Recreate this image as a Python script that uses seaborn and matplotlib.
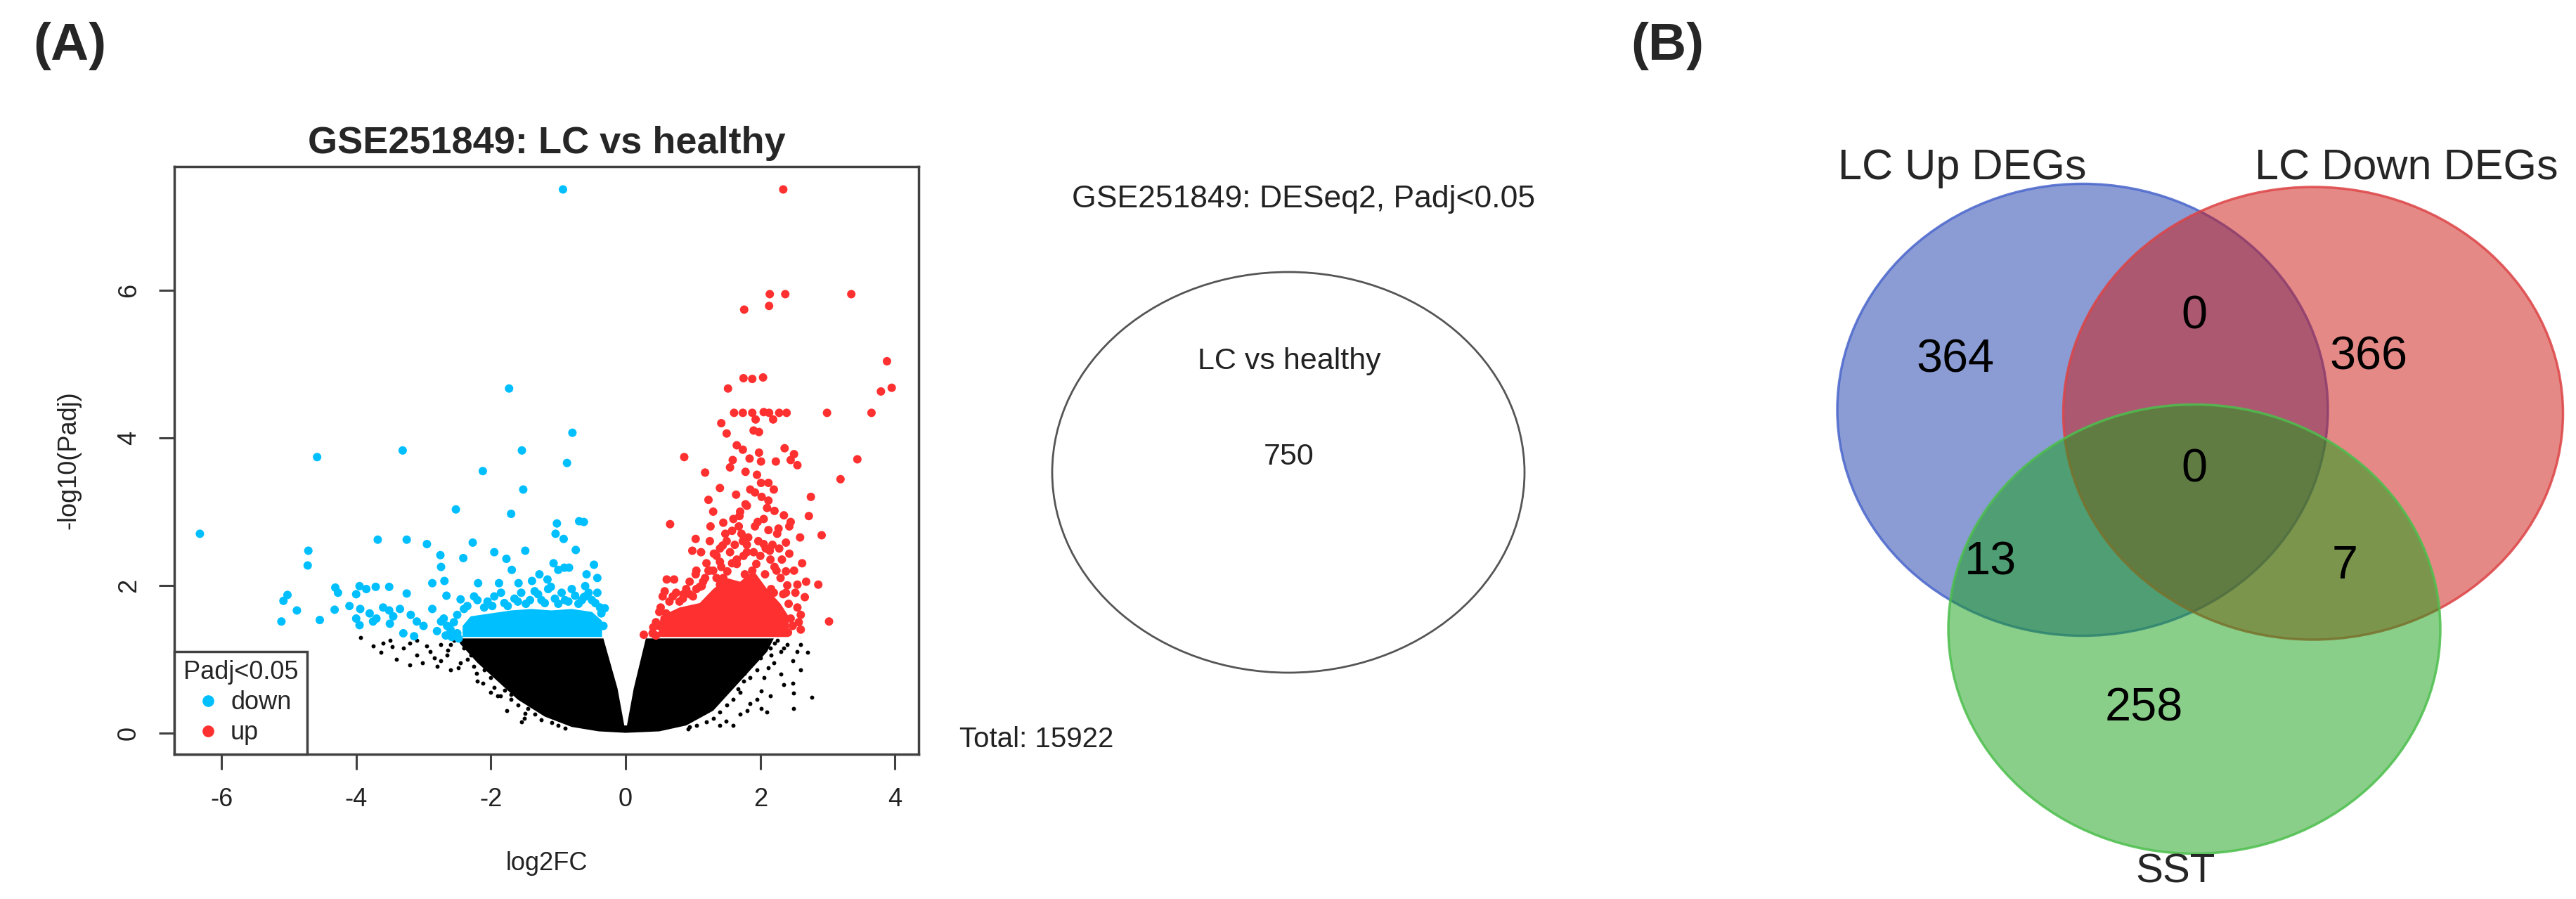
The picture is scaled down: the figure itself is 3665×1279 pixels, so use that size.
import numpy as np
import pandas as pd
import seaborn as sns
import matplotlib.pyplot as plt
from matplotlib.patches import Ellipse
from matplotlib.lines import Line2D

# ---------------- data ---------------- #
# significant down-regulated genes (log2FC, -log10 Padj)
down_x = [-0.93, -1.73, -0.79, -0.87, -1.54, -4.58, -3.31, -2.12, -1.52, -2.52, -1.70, -6.32,
          -4.71, -4.72, -3.68, -3.25, -2.95, -2.75, -2.74, -2.27, -2.41, -1.95, -1.77, -1.49,
          -1.69, -1.02, -0.92, -0.69, -0.62, -1.04, -0.74, -1.07, -0.91, -0.84, -0.47, -0.58,
          -0.42, -2.69, -2.87, -2.66, -4.31, -4.27, -3.95, -3.71, -3.51, -3.25, -5.08, -5.02,
          -4.88, -5.11, -4.54, -4.32, -3.94, -3.95, -3.75, -3.51, -3.35, -3.50, -3.19, -3.10,
          -3.14, -2.87, -2.74, -2.67, -2.45, -2.19, -1.88, -1.59, -1.39, -1.16, -1.11, -1.00,
          -1.28, -0.60, -0.62, -0.31,
          -2.35, -2.20, -2.05, -1.95, -1.80, -1.65, -1.55, -1.42, -1.30, -1.20, -1.05, -0.95,
          -0.85, -0.75, -0.65, -0.55, -0.45, -0.38, -2.55, -2.60, -2.50, -2.70, -2.80, -3.00,
          -3.30, -3.45, -3.60, -3.80, -4.10, -4.00, -3.85, -3.70, -4.00,
          -2.40, -2.25, -2.10, -1.98, -1.85, -1.75, -1.60, -1.48, -1.35, -1.25, -1.15, -1.00,
          -0.90, -0.80, -0.70, -0.60, -0.50, -0.42, -0.36, -0.33, -2.50, -2.58, -2.65, -2.48]
down_y = [7.37, 4.67, 4.07, 3.66, 3.83, 3.74, 3.83, 3.55, 3.30, 3.03, 2.97, 2.70,
          2.47, 2.27, 2.62, 2.62, 2.56, 2.41, 2.25, 2.58, 2.37, 2.45, 2.36, 2.47,
          2.21, 2.84, 2.63, 2.87, 2.86, 2.70, 2.48, 2.30, 2.24, 2.24, 2.28, 2.15,
          2.10, 2.06, 2.03, 1.86, 1.97, 1.90, 1.99, 1.98, 1.98, 1.89, 1.79, 1.87,
          1.66, 1.51, 1.53, 1.67, 1.68, 1.46, 1.51, 1.66, 1.68, 1.48, 1.60, 1.51,
          1.31, 1.68, 1.51, 1.32, 1.81, 2.03, 2.03, 2.03, 2.06, 2.08, 1.98, 2.21,
          2.15, 1.99, 1.84, 1.69,
          1.72, 1.80, 1.78, 1.85, 1.76, 1.82, 1.90, 1.80, 1.88, 1.76, 1.82, 1.90,
          1.78, 1.86, 1.80, 1.90, 1.76, 1.70, 1.50, 1.40, 1.35, 1.55, 1.38, 1.45,
          1.35, 1.58, 1.70, 1.62, 1.72, 1.88, 1.95, 1.55, 1.55,
          1.68, 1.85, 1.70, 1.72, 1.90, 1.72, 1.78, 1.75, 1.92, 1.80, 1.95, 1.75,
          1.80, 1.95, 1.75, 1.85, 1.80, 1.90, 1.62, 1.45, 1.60, 1.30, 1.45, 1.28]

# significant up-regulated genes
up_x = [2.34, 2.14, 2.37, 3.35, 2.13, 1.76, 3.88, 3.95, 3.79, 3.65, 2.99, 3.44, 3.19, 2.91,
        2.86, 2.66, 3.02, 2.04, 1.75, 1.88, 1.52, 1.61, 1.74, 1.88, 2.13, 2.28, 2.39, 1.42,
        1.50, 1.98, 1.93, 2.19, 1.74, 2.36, 2.50, 2.55, 2.45, 1.59, 1.84, 2.01, 0.87, 1.18,
        1.78, 2.23, 2.01, 2.12, 1.92, 1.64, 1.40, 1.23, 2.12, 2.75, 1.80, 2.21, 0.66, 1.69,
        1.96, 2.45, 2.72, 1.26, 1.58, 2.27, 2.43, 1.04, 1.44, 1.74, 2.05, 2.59, 2.38, 0.99,
        1.31, 1.80, 2.14, 2.43, 1.40, 1.65, 1.94, 2.21, 1.04, 1.23, 1.51, 1.77, 2.07, 2.38,
        0.61, 0.72, 0.95, 1.13, 1.40, 1.62, 1.89, 2.16, 2.55, 2.34, 0.86, 0.27, 0.41, 0.50,
        2.41, 2.57,
        0.55, 0.65, 0.75, 0.85, 0.95, 1.05, 1.15, 1.20, 1.30, 1.35, 1.45, 1.50, 1.55, 1.60,
        1.65, 1.70, 1.72, 1.80, 1.85, 1.88, 1.95, 2.00, 2.05, 2.10, 2.15, 2.20, 2.25, 2.30,
        2.35, 2.40, 2.50, 2.55, 2.60, 2.45, 0.40, 0.45, 2.30, 2.20, 1.98, 1.90, 2.05, 1.65,
        1.55, 1.30, 1.25, 1.45,
        0.52, 0.60, 0.70, 0.80, 0.90, 1.00, 1.10, 1.18, 1.25, 1.35, 1.40, 1.42, 1.48, 1.58,
        1.62, 1.68, 1.75, 1.78, 1.82, 1.90, 1.92, 1.97, 2.02, 2.08, 2.12, 2.18, 2.24, 2.28,
        2.32, 2.38, 2.42, 2.48, 2.52, 2.60, 2.62, 2.68, 0.45, 0.50, 0.58, 1.05, 1.12]
up_y = [7.37, 5.95, 5.95, 5.95, 5.79, 5.74, 5.04, 4.68, 4.63, 4.34, 4.34, 3.71, 3.44, 2.68,
        2.01, 1.84, 1.51, 4.82, 4.81, 4.80, 4.67, 4.34, 4.34, 4.34, 4.34, 4.34, 4.34, 4.20,
        4.06, 4.08, 4.25, 4.25, 3.84, 3.86, 3.78, 3.63, 3.70, 3.70, 3.72, 3.68, 3.74, 3.53,
        3.54, 3.68, 3.39, 3.39, 3.26, 3.23, 3.32, 3.16, 3.15, 3.20, 3.08, 3.01, 2.83, 2.94,
        2.86, 2.86, 2.94, 2.80, 2.74, 2.77, 2.80, 2.63, 2.54, 2.60, 2.56, 2.65, 2.58, 2.47,
        2.43, 2.45, 2.47, 2.43, 2.32, 2.29, 2.29, 2.25, 2.15, 2.20, 2.19, 2.15, 2.15, 2.19,
        2.08, 2.08, 2.05, 1.99, 2.01, 1.98, 1.99, 1.95, 2.01, 1.88, 1.88, 1.33, 1.43, 1.64,
        1.36, 1.50,
        1.85, 1.78, 1.90, 1.82, 1.88, 1.95, 2.05, 2.30, 2.20, 2.40, 2.10, 2.60, 2.45, 2.90,
        2.35, 3.00, 2.70, 2.55, 3.30, 2.20, 3.50, 2.40, 2.90, 3.05, 2.35, 3.30, 2.70, 2.10,
        2.95, 2.00, 2.20, 1.70, 1.40, 1.55, 1.35, 1.50, 1.45, 1.90, 3.80, 4.10, 4.35, 3.90,
        3.60, 3.00, 2.60, 2.85,
        1.70, 1.62, 1.85, 1.78, 1.95, 1.85, 1.98, 2.10, 2.20, 2.10, 2.50, 2.25, 2.70, 2.30,
        2.55, 2.80, 2.40, 3.10, 2.65, 2.45, 2.80, 2.60, 3.20, 2.50, 2.75, 2.55, 2.20, 2.50,
        2.35, 1.90, 1.75, 1.45, 1.90, 1.60, 2.30, 2.05, 1.32, 1.45, 1.92, 2.20, 2.45]

# non-significant genes lying outside the dense cloud
ns_x = [-3.94, -3.63, -3.47, -3.20, -3.02, -2.84, -2.64, -2.48, -2.21, -2.12, -1.86, -1.76,
        -1.49, -2.60, -2.90, -3.30, -3.60, -2.30, -2.00, -1.70, -1.50, -3.10, -2.75,
        -2.55, -2.40, -2.35, -2.25, -2.10, -2.00, -1.95, -1.80, -1.70, -1.60, -1.45, -1.35,
        -1.25, -1.10, -1.00, -0.90, -2.65, -2.75, -2.95, -3.10, -3.40, -3.50, -3.75, -2.45,
        -2.20, -1.90, -1.55, -2.60, -2.80, -3.20,
        1.94, 2.16, 2.12, 2.48, 2.70, 2.48, 2.49, 2.76, 2.49, 2.01, 2.01, 1.49, 0.93, 1.67,
        1.76, 2.21, 2.20, 2.30, 2.05, 1.85, 1.70, 1.40, 2.35, 2.60,
        2.25, 2.30, 2.15, 2.00, 1.95, 1.85, 1.75, 1.70, 1.60, 1.50, 1.40, 1.30, 1.20, 1.05,
        0.95, 2.40, 2.55, 2.60, 2.35, 2.15, 1.95, 1.80, 2.10, 1.60]
ns_y = [1.29, 1.09, 1.17, 1.22, 0.95, 1.02, 1.12, 0.88, 0.81, 0.67, 0.50, 0.30,
        0.26, 1.20, 1.10, 1.15, 1.22, 1.05, 0.55, 0.45, 0.20, 1.25, 0.98,
        1.25, 1.15, 1.00, 0.90, 0.85, 0.75, 0.62, 0.58, 0.52, 0.38, 0.33, 0.25,
        0.18, 0.14, 0.10, 0.06, 1.05, 1.20, 1.18, 1.05, 1.00, 1.25, 1.18, 0.95,
        0.70, 0.50, 0.15, 0.85, 0.90, 0.92,
        1.09, 1.05, 0.88, 0.98, 1.09, 0.67, 0.54, 0.48, 0.33, 0.57, 0.33, 0.16, 0.05, 0.60,
        0.81, 1.22, 0.95, 0.80, 0.75, 0.40, 0.25, 0.10, 1.15, 1.20,
        1.25, 1.10, 1.15, 1.02, 0.85, 0.75, 0.70, 0.55, 0.45, 0.38, 0.28, 0.20, 0.15, 0.10,
        0.08, 1.20, 1.10, 0.85, 0.65, 0.50, 0.45, 0.30, 0.28, 0.10]

# outlines of the solid-looking dense parts of each group
ns_core_x = [0.00, -0.40, -0.80, -1.20, -1.60, -1.90, -2.20, -2.45, -2.50, -0.33, -0.12, -0.02,
             0.02, 0.12, 0.30, 2.20, 2.10, 1.90, 1.60, 1.30, 0.90, 0.50]
ns_core_y = [0.00, 0.02, 0.08, 0.22, 0.45, 0.70, 0.95, 1.20, 1.28, 1.28, 0.60, 0.10,
             0.10, 0.60, 1.28, 1.28, 1.10, 0.90, 0.60, 0.30, 0.10, 0.02]
down_core_x = [-2.42, -2.30, -2.00, -1.70, -1.40, -1.10, -0.80, -0.50, -0.35, -0.35, -2.42]
down_core_y = [1.45, 1.58, 1.62, 1.66, 1.68, 1.66, 1.68, 1.64, 1.52, 1.30, 1.30]
up_core_x = [0.48, 0.52, 0.80, 1.10, 1.30, 1.50, 1.70, 1.90, 2.10, 2.30, 2.42, 2.42]
up_core_y = [1.30, 1.58, 1.70, 1.76, 1.95, 2.10, 2.05, 2.20, 1.95, 1.75, 1.58, 1.30]

x_ticks = [-6, -4, -2, 0, 2, 4]
y_ticks = [0, 2, 4, 6]

deg_total = 750
gene_total = 15922

# ---------------- Venn counts ---------------- #
venn_names = ["LC Up DEGs", "LC Down DEGs", "SST"]
only_up, only_down, only_sst = 364, 366, 258
up_down, up_sst, down_sst, all_three = 0, 13, 7, 0

COL_DOWN = "#00BFFF"
COL_UP = "#FF3030"
AX_COL = "#404040"

W, H = 3665, 1279

sns.set_theme(style="ticks")
plt.rcParams['font.family'] = ['Liberation Sans', 'DejaVu Sans']

fig = plt.figure(figsize=(W / 100, H / 100), dpi=100)
fig.patch.set_facecolor("white")

# ---------------- (A) volcano ---------------- #
ax = fig.add_axes([248 / W, 1 - 1073 / H, (1307 - 248) / W, (1073 - 237) / H])
ax.fill(ns_core_x, ns_core_y, color="black", lw=0, zorder=1)
ns_df = pd.DataFrame({"log2FC": ns_x, "padj": ns_y})
sns.scatterplot(data=ns_df, x="log2FC", y="padj", color="black", s=18, linewidth=0, ax=ax, zorder=2)

ax.fill(down_core_x, down_core_y, color=COL_DOWN, lw=0, zorder=3)
ax.fill(up_core_x, up_core_y, color=COL_UP, lw=0, zorder=3)
sig = pd.concat([
    pd.DataFrame({"log2FC": down_x, "padj": down_y, "group": "down"}),
    pd.DataFrame({"log2FC": up_x, "padj": up_y, "group": "up"}),
])
sns.scatterplot(data=sig, x="log2FC", y="padj", hue="group",
                palette={"down": COL_DOWN, "up": COL_UP}, s=75, linewidth=0,
                legend=False, ax=ax, zorder=4)

ax.set_xlim(-6.70, 4.35)
ax.set_ylim(-0.29, 7.68)
ax.set_xticks(x_ticks)
ax.set_yticks(y_ticks)
ax.set_xticklabels([str(t) for t in x_ticks])
ax.set_yticklabels([str(t) for t in y_ticks], rotation=90, va="center")
ax.tick_params(direction="out", length=16, width=2.2, pad=18, labelsize=26,
               color=AX_COL, labelcolor="#222222")
for sp in ax.spines.values():
    sp.set_visible(True)
    sp.set_color(AX_COL)
    sp.set_linewidth(2.5)

ax.set_title("GSE251849: LC vs healthy", fontsize=39, fontweight="bold", pad=14)
ax.set_xlabel("log2FC", fontsize=26, color="#222222")
ax.set_ylabel("-log10(Padj)", fontsize=26, color="#222222")
ax.xaxis.set_label_coords(0.5, -0.165)
ax.yaxis.set_label_coords(-0.125, 0.5)

handles = [Line2D([], [], marker="o", ls="", color=COL_DOWN, markersize=11, label="down"),
           Line2D([], [], marker="o", ls="", color=COL_UP, markersize=11, label="up")]
leg = ax.legend(handles=handles, title="Padj<0.05", loc="lower left", bbox_to_anchor=(0, 0),
                borderaxespad=0, fontsize=26, title_fontsize=26, frameon=True,
                fancybox=False, framealpha=1, edgecolor=AX_COL, borderpad=0.35,
                handlelength=1.45, handletextpad=0.15, labelspacing=0.22)
leg.get_frame().set_linewidth(2.5)
leg.set_zorder(10)

# ---------------- (A) single-set Venn ---------------- #
axv = fig.add_axes([1350 / W, 0, 1000 / W, 1])
axv.set_xlim(1350, 2350)
axv.set_ylim(H, 0)
axv.axis("off")
axv.add_patch(Ellipse((1833, 672), 672, 570, fill=False, ec="#555555", lw=2))
axv.text(1855, 283, "GSE251849: DESeq2, Padj<0.05", ha="center", va="center", fontsize=32, color="#222222")
axv.text(1834, 514, "LC vs healthy", ha="center", va="center", fontsize=31, color="#222222")
axv.text(1834, 650, str(deg_total), ha="center", va="center", fontsize=31, color="#222222")
axv.text(1365, 1052, f"Total: {gene_total}", ha="left", va="center", fontsize=29, color="#222222")

# ---------------- (B) three-set Venn ---------------- #
axb = fig.add_axes([2300 / W, 0, (W - 2300) / W, 1])
axb.set_xlim(2300, W)
axb.set_ylim(H, 0)
axb.axis("off")

circles = [
    ((2963, 583), 698, 643, "#193BAD", "#4A66CC"),
    ((3291, 588), 711, 644, "#CD150F", "#DD4446"),
    ((3122, 895), 700, 639, "#15A115", "#4DBF4D"),
]
for (cx, cy), w, h, fc, ec in circles:
    axb.add_patch(Ellipse((cx, cy), w, h, fc=fc, alpha=0.5, lw=0))
    axb.add_patch(Ellipse((cx, cy), w, h, fill=False, ec=ec, lw=2.5, alpha=0.85))

axb.text(2792, 240, venn_names[0], ha="center", va="center", fontsize=44)
axb.text(3424, 240, venn_names[1], ha="center", va="center", fontsize=44)
axb.text(3095, 1240, venn_names[2], ha="center", va="center", fontsize=42)

region_pos = [
    ((2782, 513), only_up), ((3370, 509), only_down), ((3122, 450), up_down),
    ((3122, 668), all_three), ((2832, 800), up_sst), ((3336, 806), down_sst),
    ((3050, 1008), only_sst),
]
for (px, py), n in region_pos:
    axb.text(px, py, str(n), ha="center", va="center", fontsize=48, color="black")

# ---------------- panel letters ---------------- #
fig.text(47 / W, 1 - 65 / H, "(A)", fontsize=54, fontweight="bold", ha="left", va="center")
fig.text(2320 / W, 1 - 65 / H, "(B)", fontsize=54, fontweight="bold", ha="left", va="center")

fig.savefig("out.png", dpi=100, facecolor="white")
